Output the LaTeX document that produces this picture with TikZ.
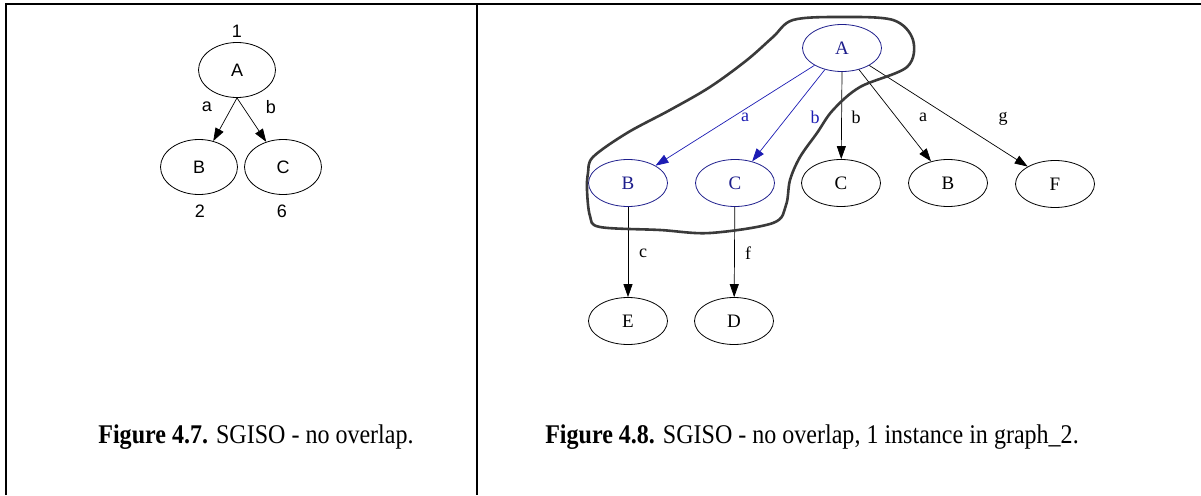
\documentclass[tikz,border=0pt]{standalone}
\usepackage{fontspec}
\setmainfont{Liberation Serif}
\newfontfamily\arialish{Liberation Sans}
\usetikzlibrary{shapes.geometric,arrows.meta}
\definecolor{hullgray}{HTML}{3A3A3A}
\definecolor{navyline}{HTML}{1E1E8C}
\definecolor{bluetext}{HTML}{1C1CB4}
\tikzset{
  frame/.style={line width=2.2pt,black},
  divider/.style={line width=2pt,black},
  sansnode/.style={ellipse,draw,line width=0.8pt,inner sep=0pt,
    minimum width=77pt,minimum height=55pt,font=\arialish\fontsize{18}{18}\selectfont},
  sanslabel/.style={font=\arialish\fontsize{18}{18}\selectfont,inner sep=0pt},
  gnode/.style={ellipse,draw,line width=0.8pt,inner sep=0pt,
    minimum width=79pt,minimum height=47pt,font=\fontsize{19}{19}\selectfont},
  bnode/.style={gnode,draw=navyline,text=navyline},
  elabel/.style={font=\fontsize{18}{18}\selectfont,inner sep=0pt},
  belabel/.style={elabel,text=bluetext},
  edge/.style={line width=0.7pt,-{Triangle[length=13pt,width=9pt]}},
  bedge/.style={edge,draw=bluetext,-{Triangle[length=13pt,width=9pt,fill=bluetext]}},
  hull/.style={line width=2.6pt,hullgray,line join=round},
  caption/.style={font=\fontsize{27}{27}\selectfont,inner sep=0pt,transform shape,xscale=0.89}
}
\begin{document}
\begin{tikzpicture}[x=1pt,y=-1pt]
\useasboundingbox (0,0) rectangle (1201,495);
\fill[white] (0,0) rectangle (1201,495);

% frame lines
\draw[frame] (6,495) -- (6,4) -- (1201,4);
\draw[divider] (477,4) -- (477,495);

% ---- left graph
\node[sansnode] (lA) at (237,70) {A};
\node[sansnode] (lB) at (199,167) {B};
\node[sansnode] (lC) at (283,167) {C};
\node[sanslabel] (n1) at (237,31) {1};
\node[sanslabel] (n2) at (200,211) {2};
\node[sanslabel] (n6) at (282,211) {6};
\draw[edge] (lA.south) -- (lB);
\draw[edge] (lA.south) -- (lC);
\node[sanslabel] (la) at (207,107) {a};
\node[sanslabel] (lb) at (271,107) {b};

% ---- right graph
\node[bnode] (A) at (842,48) {A};
\node[bnode] (B1) at (628,183) {B};
\node[bnode] (C1) at (735,183) {C};
\node[gnode] (C2) at (841,183) {C};
\node[gnode] (B2) at (948,183) {B};
\node[gnode] (F) at (1055,184) {F};
\node[gnode] (E) at (628,321) {E};
\node[gnode] (D) at (734,321) {D};

\draw[bedge] (A) -- (B1);
\draw[bedge] (A) -- (C1);
\draw[edge] (A.south) -- (C2);
\draw[edge] (A) -- (B2);
\draw[edge] (A) -- (F);
\draw[edge] (B1) -- (E);
\draw[edge] (C1) -- (D);

\node[belabel] (ea) at (745,117) {a};
\node[belabel] (eb) at (815,117) {b};
\node[elabel] (eb2) at (856,117) {b};
\node[elabel] (ea2) at (923,117) {a};
\node[elabel] (eg) at (1003,119) {g};
\node[elabel] (ec) at (643,253) {c};
\node[elabel] (ef) at (748,253) {f};

% freehand outline round the matched instance
\draw[hull] plot[smooth cycle,tension=0.55] coordinates {
  (793,20) (840,17) (893,20) (913,40) (907,67) (860,87) (833,110)
  (817,133) (800,157) (790,180) (786,205) (773,223) (710,233)
  (660,230) (600,227) (590,216) (587,190) (588,173) (593,157)
  (627,133) (670,110) (710,87) (747,60) (773,37)};

% ---- captions
\node[caption] (cap1) at (256,437) {\textbf{Figure 4.7.} SGISO - no overlap.};
\node[caption] (cap2) at (812,437) {\textbf{Figure 4.8.} SGISO - no overlap, 1 instance in graph\_2.};
\end{tikzpicture}
\end{document}
